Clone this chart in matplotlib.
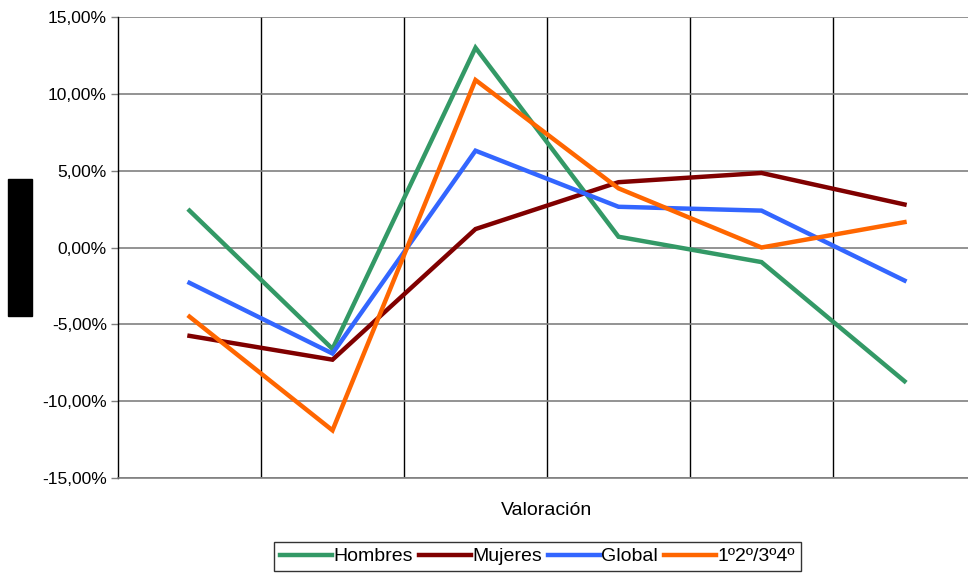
import matplotlib
matplotlib.use("Agg")
import matplotlib.pyplot as plt
from matplotlib.ticker import FuncFormatter, FixedLocator
from matplotlib.patches import Rectangle

plt.rcParams['font.family'] = ['Liberation Sans', 'DejaVu Sans']

categories = ["1", "2", "3", "4", "5", "6"]
hombres = [2.4, -6.6, 13.0, 0.7, -0.95, -8.7]
mujeres = [-5.75, -7.3, 1.2, 4.25, 4.85, 2.8]
global_ = [-2.3, -6.9, 6.3, 2.65, 2.4, -2.15]
cursos = [-4.5, -11.9, 10.9, 3.85, 0.0, 1.65]

series = [
    ("Hombres", hombres, "#339966"),
    ("Mujeres", mujeres, "#800000"),
    ("Global", global_, "#3366FF"),
    ("1º2º/3º4º", cursos, "#FF6600"),
]

W, H = 968, 574
fig = plt.figure(figsize=(W / 100, H / 100), dpi=100)
ax = fig.add_axes([118 / W, 1 - 478 / H, 858 / W, 461 / H])

x = list(range(len(categories)))
for name, vals, col in series:
    ax.plot(x, vals, color=col, lw=3.2, label=name, solid_joinstyle="miter")

ax.set_xlim(-0.5, len(categories) - 0.5)
ax.set_ylim(-15, 15)
ax.set_yticks([-15, -10, -5, 0, 5, 10, 15])
ax.yaxis.set_major_formatter(FuncFormatter(lambda v, p: f"{v:.2f}%".replace(".", ",")))
ax.set_xticks([])
ax.xaxis.set_minor_locator(FixedLocator([i + 0.5 for i in range(len(categories) - 1)]))
ax.grid(axis="y", which="major", color="#808080", lw=1.2)
ax.grid(axis="x", which="minor", color="black", lw=1.0)
ax.tick_params(axis="x", which="both", length=0)
ax.tick_params(axis="y", length=5, width=1, color="#808080", labelsize=12.5, pad=3)
ax.set_axisbelow(True)
for s in ["top", "right"]:
    ax.spines[s].set_visible(False)
ax.spines["bottom"].set_color("#808080")
ax.spines["bottom"].set_linewidth(1.2)
ax.spines["left"].set_color("black")
ax.spines["left"].set_linewidth(1.0)

ax.set_xlabel("Valoración", fontsize=14, labelpad=14)

# axis title block on the left
fig.patches.append(Rectangle((8 / W, 1 - 316 / H), 24 / W, 137 / H,
                             transform=fig.transFigure, color="black", zorder=5))

leg = fig.legend(loc="upper left", bbox_to_anchor=(274 / W, 1 - 542 / H),
                 ncol=4, frameon=True, fancybox=False, fontsize=14,
                 handlelength=2.7, handletextpad=0.05, columnspacing=0.3,
                 borderpad=0.3, borderaxespad=0)
leg.get_frame().set_edgecolor("black")
leg.get_frame().set_linewidth(1.0)

fig.savefig("out.png", dpi=100)
